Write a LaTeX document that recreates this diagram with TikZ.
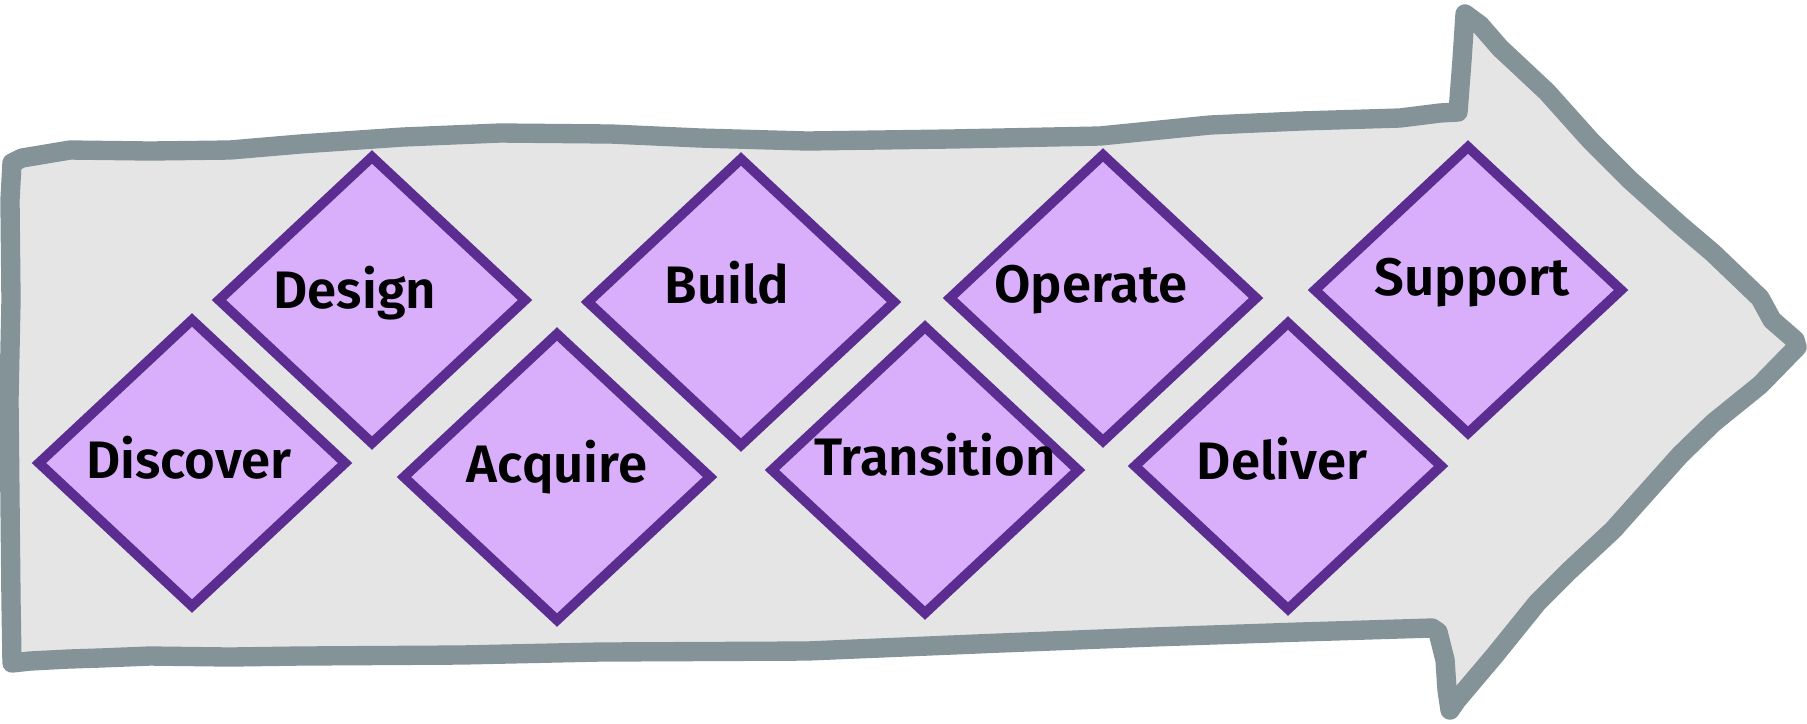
\documentclass[tikz,border=0pt]{standalone}
\usepackage{fontspec}
\setmainfont{Fira Sans}[BoldFont={Fira Sans SemiBold}]
\usetikzlibrary{positioning,shapes.geometric}
\definecolor{arrowline}{HTML}{849397}
\definecolor{arrowfill}{HTML}{E5E5E5}
\definecolor{stagefill}{HTML}{D9AFFB}
\definecolor{stageline}{HTML}{5C2D91}

\begin{document}
\begin{tikzpicture}[x=0.01cm, y=-0.01cm,
    stage/.style={diamond, draw=stageline, fill=stagefill, line width=2.8pt,
      minimum width=3.1cm, minimum height=2.9cm, inner sep=0pt},
    stagetext/.style={font=\fontsize{15}{18}\selectfont\bfseries, inner sep=0pt}]
    \useasboundingbox (0,0) rectangle (1807,723);

    % the big hand drawn arrow
    \draw [arrowline, fill=arrowfill, line width=5.5pt, line join=round, line cap=round]
      (12,163) -- (22,158) -- (40,155) -- (70,150) -- (150,151) -- (230,150)
      -- (300,144) -- (403,137) -- (500,133) -- (611,134) -- (700,138)
      -- (807,141) -- (950,139) -- (1100,136) -- (1210,125) -- (1300,121)
      -- (1400,118) -- (1440,113) -- (1458,112) -- (1462,60) -- (1465,14)
      -- (1480,25) -- (1500,48) -- (1547,92) -- (1590,140) -- (1630,180)
      -- (1680,225) -- (1713,253) -- (1760,298) -- (1772,320) -- (1795,340)
      -- (1797,347) -- (1760,385) -- (1713,423) -- (1680,455) -- (1613,530)
      -- (1570,570) -- (1537,603) -- (1495,655) -- (1457,700) -- (1450,710)
      -- (1447,690) -- (1445,660) -- (1438,632) -- (1432,628) -- (1300,632)
      -- (1152,637) -- (1000,643) -- (807,651) -- (600,652) -- (461,655)
      -- (300,656) -- (230,657) -- (150,656) -- (100,658) -- (69,659)
      -- (30,661) -- (12,663) -- (11,600) -- (10,500) -- (9,400)
      -- (11,300) -- (10,200) -- cycle;

    % the stages
    \node (discover) [stage, label={[stagetext, xshift=-0.03cm, yshift=0.05cm]center:Discover}] at (192,463) {};
    \node (design) [stage, label={[stagetext, xshift=-0.17cm, yshift=0.07cm]center:Design}] at (372,300) {};
    \node (acquire) [stage, label={[stagetext, yshift=0.10cm]center:Acquire}] at (557,477) {};
    \node (build) [stage, label={[stagetext, xshift=-0.14cm, yshift=0.19cm]center:Build}] at (741,302) {};
    \node (transition) [stage, label={[stagetext, xshift=0.10cm, yshift=0.15cm]center:Transition}] at (925,470) {};
    \node (operate) [stage, label={[stagetext, xshift=-0.12cm, yshift=0.08cm]center:Operate}] at (1103,298) {};
    \node (deliver) [stage, label={[stagetext, xshift=-0.06cm, yshift=0.07cm]center:Deliver}] at (1288,466) {};
    \node (support) [stage, label={[stagetext, xshift=0.04cm, yshift=0.07cm]center:Support}] at (1468,290) {};
\end{tikzpicture}
\end{document}
